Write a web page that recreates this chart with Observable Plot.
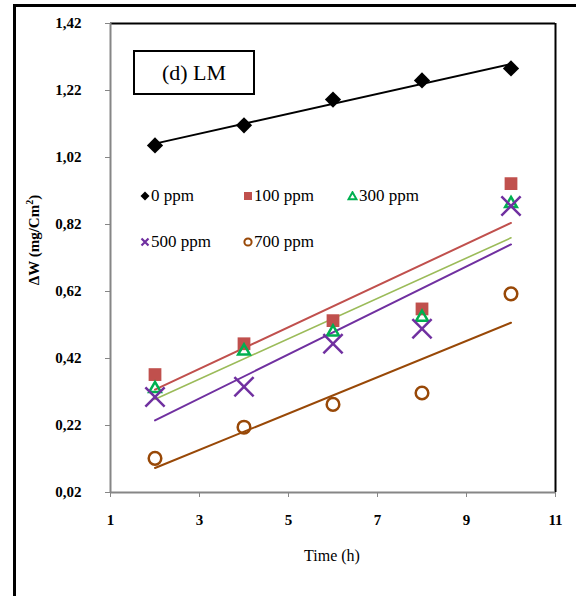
<!DOCTYPE html>
<html>
<head>
<meta charset="utf-8">
<script src="https://cdn.jsdelivr.net/npm/d3@7"></script>
<script src="https://cdn.jsdelivr.net/npm/@observablehq/plot@0.6"></script>
<style>
  html, body { margin: 0; padding: 0; background: #fff; }
  #wrap { position: relative; width: 576px; height: 596px; font-family: "Liberation Serif", "Times New Roman", serif; overflow: hidden; }
  #frame { position: absolute; left: 13px; top: 4px; width: 580px; height: 600px; border-top: 3px solid #000; border-left: 3px solid #000; box-sizing: border-box; }
  #chart { position: absolute; left: 0; top: 0; }
  .lab { position: absolute; white-space: nowrap; color: #000; }
  #title { position: absolute; left: 133px; top: 50px; width: 122px; height: 45px; border: 2px solid #000; box-sizing: border-box; background: #fff;
           display: flex; align-items: center; justify-content: center; font-size: 22px; }
  .leg { position: absolute; font-size: 17px; display: flex; align-items: center; white-space: nowrap; }
  .leg svg { margin-right: 1px; }
</style>
</head>
<body>
<div id="wrap">
  <div id="chart"></div>
  <div id="frame"></div>
  <div id="title">(d) LM</div>
  <div class="lab" id="xlab" style="left:332px; top:556px; transform: translate(-50%,-50%); font-size:16px;">Time (h)</div>
  <div class="lab" id="ylab" style="left:33px; top:240px; transform: translate(-50%,-50%) rotate(-90deg); font-size:15px; font-weight:bold;">ΔW (mg/Cm<sup style="font-size:10px">2</sup>)</div>
</div>
<script>
const times = [2, 4, 6, 8, 10];
const seriesNames = ["0 ppm", "100 ppm", "300 ppm", "500 ppm", "700 ppm"];
const ppm0   = [1.056, 1.116, 1.193, 1.250, 1.286];
const ppm100 = [0.372, 0.464, 0.533, 0.568, 0.942];
const ppm300 = [0.330, 0.442, 0.499, 0.543, 0.882];
const ppm500 = [0.305, 0.336, 0.464, 0.509, 0.875];
const ppm700 = [0.122, 0.215, 0.283, 0.317, 0.613];
const xTicks = [1, 3, 5, 7, 9, 11];
const yTicks = [0.02, 0.22, 0.42, 0.62, 0.82, 1.02, 1.22, 1.42];

const seriesValues = [ppm0, ppm100, ppm300, ppm500, ppm700];
const markerColors = ["#000000", "#c0504d", "#00b050", "#7030a0", "#984807"];
const lineColors   = ["#000000", "#c0504d", "#9bbb59", "#7030a0", "#984807"];
const lineWidths   = [2, 2, 1.6, 2, 2];

const rows = [];
seriesNames.forEach((s, i) => seriesValues[i].forEach((w, j) => rows.push({s, t: times[j], w})));
const bySeries = s => rows.filter(d => d.s === s);

const gray = "#868686";
const marks = [
  Plot.ruleY([yTicks[yTicks.length - 1]], {stroke: "#000", strokeWidth: 2}),
  Plot.ruleX([xTicks[xTicks.length - 1]], {stroke: "#000", strokeWidth: 2}),
  Plot.ruleY([yTicks[0]], {stroke: gray, strokeWidth: 2}),
  Plot.ruleX([xTicks[0]], {stroke: gray, strokeWidth: 2}),
  Plot.axisY({ticks: yTicks, tickSize: 5, tickPadding: 24, stroke: gray, fill: "#000", fontSize: 15, fontWeight: "bold",
              tickFormat: d => d.toFixed(2).replace(".", ","), label: null}),
  Plot.axisX({ticks: xTicks, tickSize: 5, tickPadding: 17, stroke: gray, fill: "#000", fontSize: 15, fontWeight: "bold",
              tickFormat: d => String(d), label: null})
];
seriesNames.forEach((s, i) => {
  marks.push(Plot.linearRegressionY(bySeries(s), {x: "t", y: "w", stroke: lineColors[i], strokeWidth: lineWidths[i], ci: 0}));
});
marks.push(
  Plot.dot(bySeries(seriesNames[0]), {x: "t", y: "w", symbol: "diamond2", r: 7.3, fill: markerColors[0], stroke: "none"}),
  Plot.dot(bySeries(seriesNames[1]), {x: "t", y: "w", symbol: "square", r: 7.2, fill: markerColors[1], stroke: "none"}),
  Plot.dot(bySeries(seriesNames[2]), {x: "t", y: "w", symbol: "triangle2", r: 5.6, fill: "none", stroke: markerColors[2], strokeWidth: 2.5}),
  Plot.dot(bySeries(seriesNames[3]), {x: "t", y: "w", symbol: "times", r: 8.8, fill: "none", stroke: markerColors[3], strokeWidth: 2.5}),
  Plot.dot(bySeries(seriesNames[4]), {x: "t", y: "w", symbol: "circle", r: 6.3, fill: "none", stroke: markerColors[4], strokeWidth: 2.5})
);

const chart = Plot.plot({
  width: 576, height: 596,
  marginLeft: 110, marginRight: 21, marginTop: 23, marginBottom: 104,
  style: {fontFamily: "Liberation Serif, Times New Roman, serif", background: "transparent", overflow: "visible"},
  x: {domain: [xTicks[0], xTicks[xTicks.length - 1]]},
  y: {domain: [yTicks[0], yTicks[yTicks.length - 1]]},
  marks
});
document.getElementById("chart").appendChild(chart);

// legend inside plot
const glyph = [
  `<svg width="10" height="10" viewBox="-5 -5 10 10"><path d="M0,-4.5L4.5,0L0,4.5L-4.5,0Z" fill="${markerColors[0]}"/></svg>`,
  `<svg width="10" height="10" viewBox="-5 -5 10 10"><rect x="-4" y="-4" width="8" height="8" fill="${markerColors[1]}"/></svg>`,
  `<svg width="11" height="10" viewBox="-5.5 -5 11 10"><path d="M0,-3.8L4,3.3L-4,3.3Z" fill="none" stroke="${markerColors[2]}" stroke-width="2"/></svg>`,
  `<svg width="10" height="10" viewBox="-5 -5 10 10"><path d="M-3.5,-3.5L3.5,3.5M3.5,-3.5L-3.5,3.5" stroke="${markerColors[3]}" stroke-width="2.2"/></svg>`,
  `<svg width="10" height="10" viewBox="-5 -5 10 10"><circle r="3.6" fill="none" stroke="${markerColors[4]}" stroke-width="2"/></svg>`
];
const legPos = [[140, 196], [243, 196], [347, 196], [140, 242], [243, 242]];
const wrap = document.getElementById("wrap");
seriesNames.forEach((s, i) => {
  const el = document.createElement("div");
  el.className = "leg";
  el.style.left = legPos[i][0] + "px";
  el.style.top = (legPos[i][1] - 11) + "px";
  el.style.height = "22px";
  el.innerHTML = glyph[i] + `<span>${s}</span>`;
  wrap.appendChild(el);
});
</script>
</body>
</html>
